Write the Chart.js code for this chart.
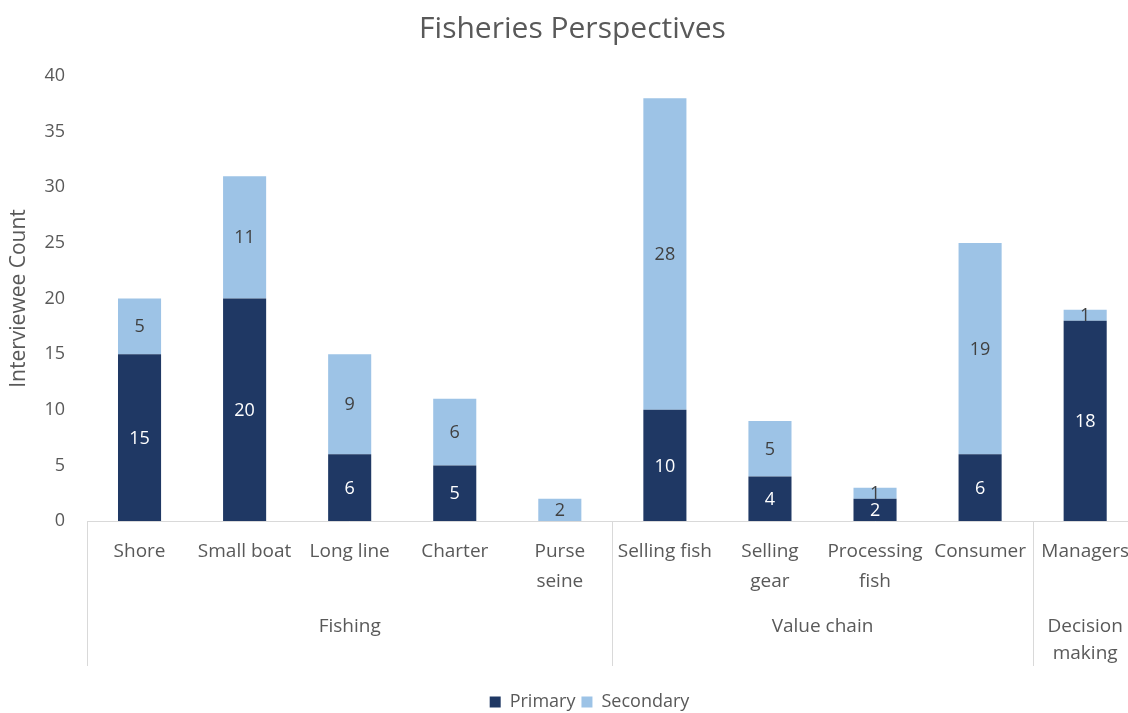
<html lang="en">
<head>
    <meta charset="UTF-8">
    <title>Fisheries Perspectives</title>
    <style>
        body { margin: 0; overflow: hidden; background: #fff; }
    </style>
</head>
<body>
    <canvas id="canvas" width="1145" height="713"></canvas>
    <script src="https://cdn.jsdelivr.net/npm/chart.js@4"></script>
    <script>
        // data
        const categories = ['Shore', 'Small boat', 'Long line', 'Charter', ['Purse', 'seine'],
            'Selling fish', ['Selling', 'gear'], ['Processing', 'fish'], 'Consumer', 'Managers'];
        const primary = [15, 20, 6, 5, 0, 10, 4, 2, 6, 18];
        const secondary = [5, 11, 9, 6, 2, 28, 5, 1, 19, 1];
        const groupNames = [['Fishing'], ['Value chain'], ['Decision', 'making']];
        const groupStart = [0, 5, 9];
        const groupEnd = [4, 8, 9];

        const gray = '#595959';
        const font = "'Open Sans', Lato, sans-serif";

        const labelsPlugin = {
            id: 'valueLabels',
            afterLayout(chart) {
                // legend in the original sits a bit right of centre
                chart.legend.left += 17;
                chart.legend.right += 17;
            },
            afterDatasetsDraw(chart) {
                const ctx = chart.ctx;
                ctx.save();
                ctx.font = '18px ' + font;
                ctx.textAlign = 'center';
                ctx.textBaseline = 'middle';
                chart.data.datasets.forEach((ds, i) => {
                    const meta = chart.getDatasetMeta(i);
                    meta.data.forEach((bar, j) => {
                        const v = ds.data[j];
                        if (!v) return;
                        ctx.fillStyle = i == 0 ? '#ffffff' : '#404040';
                        ctx.fillText(v, bar.x, (bar.y + bar.base) / 2 + 1);
                    });
                });
                ctx.restore();
            }
        };

        const groupPlugin = {
            id: 'groups',
            afterDraw(chart) {
                const ctx = chart.ctx;
                const xs = chart.scales.x;
                const half = (xs.getPixelForValue(1) - xs.getPixelForValue(0)) / 2;
                const top = chart.chartArea.bottom;
                ctx.save();
                ctx.strokeStyle = '#d9d9d9';
                ctx.lineWidth = 1;
                ctx.beginPath();
                groupStart.forEach(s => {
                    const x = Math.round(xs.getPixelForValue(s) - half) + 0.5;
                    ctx.moveTo(x, top);
                    ctx.lineTo(x, top + 145);
                });
                ctx.stroke();
                ctx.fillStyle = gray;
                ctx.font = '19px ' + font;
                ctx.textAlign = 'center';
                ctx.textBaseline = 'middle';
                groupNames.forEach((g, k) => {
                    const x = (xs.getPixelForValue(groupStart[k]) + xs.getPixelForValue(groupEnd[k])) / 2;
                    g.forEach((line, n) => ctx.fillText(line, x, top + 106 + n * 27));
                });
                ctx.restore();
            }
        };

        new Chart(document.getElementById('canvas'), {
            type: 'bar',
            data: {
                labels: categories,
                datasets: [
                    { label: 'Primary', data: primary, backgroundColor: '#1f3864' },
                    { label: 'Secondary', data: secondary, backgroundColor: '#9dc3e6' }
                ]
            },
            options: {
                responsive: false,
                animation: false,
                barPercentage: 0.82,
                categoryPercentage: 0.5,
                layout: { padding: { left: 0, right: 0, bottom: -8 } },
                scales: {
                    x: {
                        stacked: true,
                        grid: { display: false, drawTicks: false },
                        border: { color: '#d9d9d9' },
                        ticks: { color: gray, font: { family: font, size: 19, lineHeight: 1.55 }, padding: 16, maxRotation: 0, autoSkip: false },
                        afterFit(s) { s.height = 166; }
                    },
                    y: {
                        stacked: true,
                        min: 0, max: 40,
                        ticks: { stepSize: 5, color: gray, font: { family: font, size: 18 }, padding: 14 },
                        grid: { display: false },
                        border: { display: false },
                        title: { display: true, text: 'Interviewee Count', color: gray, font: { family: font, size: 21 }, padding: { top: 6, bottom: 0 } },
                        afterFit(s) { s.width = 87; }
                    }
                },
                plugins: {
                    title: {
                        display: true,
                        text: 'Fisheries Perspectives',
                        color: gray,
                        font: { family: font, size: 30, weight: 'normal' },
                        padding: { top: 11, bottom: 29 }
                    },
                    legend: {
                        position: 'bottom',
                        labels: { color: gray, font: { family: font, size: 18 }, boxWidth: 11, boxHeight: 11, padding: 6 }
                    },
                    tooltip: { enabled: false }
                }
            },
            plugins: [labelsPlugin, groupPlugin]
        });
    </script>
</body>
</html>
